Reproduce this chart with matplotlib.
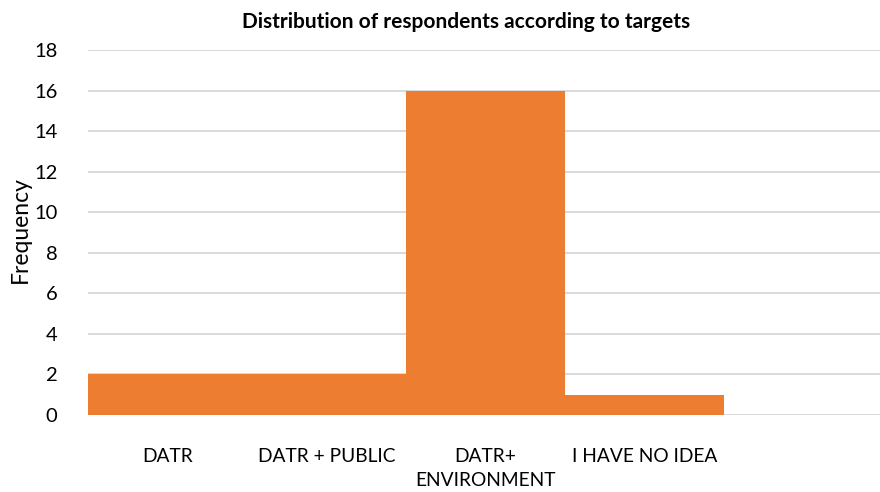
import matplotlib
matplotlib.use("Agg")
import matplotlib.pyplot as plt

# Respondents grouped by the target they named
targets = ["DATR", "DATR + PUBLIC", "DATR+\nENVIRONMENT", "I HAVE NO IDEA", ""]
counts = [2, 2, 16, 1, 0]
yticks = [0, 2, 4, 6, 8, 10, 12, 14, 16, 18]

plt.rcParams["font.family"] = ["Lato", "DejaVu Sans"]

fig = plt.figure(figsize=(8.8, 4.92), dpi=100)
ax = fig.add_axes([0.1, 0.1565, 0.903, 0.7415])

x = range(len(targets))
ax.bar(x, counts, width=1.0, color="#ED7D31", zorder=3)

ax.set_xlim(-0.5, len(targets) - 0.5)
ax.set_ylim(0, 18)
ax.set_yticks(yticks)
ax.set_xticks(list(x))
ax.set_xticklabels(targets, fontsize=13.8, linespacing=1.45, va="top")
ax.tick_params(axis="x", length=0, pad=24)
ax.tick_params(axis="y", length=0, pad=22, labelsize=14.5)

ax.grid(axis="y", color="#D9D9D9", linewidth=1.4, zorder=0)
for side in ["top", "right", "left", "bottom"]:
    ax.spines[side].set_visible(False)

fig.text(20 / 880, 1 - 230 / 492, "Frequency", rotation=90,
         ha="center", va="center", fontsize=16.5)
fig.text(466 / 880, 1 - 22 / 492, "Distribution of respondents according to targets",
         ha="center", va="center", fontsize=15, fontweight="bold")

fig.savefig("out.png", dpi=100)
